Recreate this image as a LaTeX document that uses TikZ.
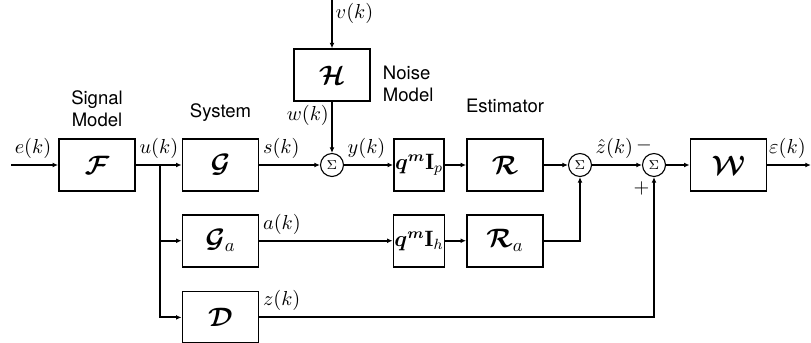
\documentclass[tikz,border=0pt]{standalone}
\usepackage{fontspec}
\usepackage{amsmath,bm}
\newfontfamily\capfont{TeX Gyre Heros}
\usetikzlibrary{arrows.meta,positioning}
\tikzset{
    sysblock/.style={rectangle,draw,line width=1pt,minimum width=41pt,minimum height=28pt,inner sep=1pt,font=\Large},
    sysnarrow/.style={sysblock,minimum width=27pt,inner sep=0.5pt,font=\large},
    sumnode/.style={circle,draw,line width=0.6pt,minimum size=12.4pt,inner sep=0pt},
    sigline/.style={-{Latex[length=3pt,width=2.6pt]},line width=1pt},
    siglabel/.style={pos=0,above right,inner xsep=1.5pt,inner ysep=3pt,font=\fontsize{11.3}{13}\selectfont},
    caption/.style={font=\capfont,align=center},
    signmark/.style={inner sep=0pt,font=\fontsize{11.3}{13}\selectfont}
}
\begin{document}
\begin{tikzpicture}[x=0.54pt,y=-0.54pt]
    \useasboundingbox (0,0) rectangle (811,342);
    % upper chain
    \node[sysblock] (F) at (97,165) {$\bm{\mathcal{F}}$};
    \node[sysblock] (G) at (220.5,165) {$\bm{\mathcal{G}}$};
    \node[sumnode] (sum1) at (332,165) {$\scriptstyle\Sigma$};
    \node[sysnarrow] (qIp) at (419,165) {$\bm{q}^{\bm{m}}\mathbf{I}_p$};
    \node[sysblock] (R) at (505,165) {$\bm{\mathcal{R}}$};
    \node[sumnode] (sum2) at (580,165) {$\scriptstyle\Sigma$};
    \node[sumnode] (sum3) at (654,165) {$\scriptstyle\Sigma$};
    \node[sysblock] (W) at (728.5,165) {$\bm{\mathcal{W}}$};
    % noise branch
    \node[sysblock,above=27.5pt of sum1] (H) {$\bm{\mathcal{H}}$};
    \coordinate[above=28pt of H] (vin);
    % lower rows
    \node[sysblock,below=11.9pt of G] (Ga) {$\bm{\mathcal{G}}_a$};
    \node[sysblock,below=12.4pt of Ga] (D) {$\bm{\mathcal{D}}$};
    \node[sysnarrow,below=11.9pt of qIp] (qIh) {$\bm{q}^{\bm{m}}\mathbf{I}_h$};
    \node[sysblock,below=11.9pt of R] (Ra) {$\bm{\mathcal{R}}_a$};
    \coordinate[left=25.4pt of F] (ein);
    \coordinate[right=13pt of F] (ubranch);
    \coordinate[right=23.5pt of W] (eout);
    % captions
    \node[caption,above=2.6pt of F] (sigcap) {Signal\\Model};
    \node[caption,above=5.5pt of G] (syscap) {System};
    \node[caption,align=left,right=3pt of H,yshift=-4.9pt] (noisecap) {Noise\\Model};
    \node[caption,above=9.9pt of R] (estcap) {Estimator};
    % signals
    \draw[sigline] (ein) -- node[siglabel]{$e(k)$} (F);
    \draw[sigline] (F) -- node[siglabel]{$u(k)$} (G);
    \draw[sigline] (ubranch) |- (Ga);
    \draw[sigline] (ubranch) |- (D);
    \draw[sigline] (G) -- node[siglabel]{$s(k)$} (sum1);
    \draw[sigline] (vin) -- node[siglabel,below right]{$v(k)$} (H);
    \draw[sigline] (H) -- node[siglabel,below left,inner sep=1.2pt]{$w(k)$} (sum1);
    \draw[sigline] (sum1) -- node[siglabel]{$y(k)$} (qIp);
    \draw[sigline] (qIp) -- (R);
    \draw[sigline] (R) -- (sum2);
    \draw[sigline] (sum2) -- node[siglabel]{$\hat{z}(k)$} (sum3);
    \draw[sigline] (sum3) -- (W);
    \draw[sigline] (W) -- node[siglabel,inner xsep=0.5pt]{$\varepsilon(k)$} (eout);
    \draw[sigline] (Ga) -- node[siglabel]{$a(k)$} (qIh);
    \draw[sigline] (qIh) -- (Ra);
    \draw[sigline] (Ra) -| (sum2);
    \draw[sigline] (D) -| node[siglabel]{$z(k)$} (sum3);
    % signs at the comparator
    \node[signmark] (minus) at ([xshift=-5.4pt,yshift=10.8pt]sum3.center) {$-$};
    \node[signmark] (plus) at ([xshift=-6.8pt,yshift=-12.4pt]sum3.center) {$+$};
\end{tikzpicture}
\end{document}
